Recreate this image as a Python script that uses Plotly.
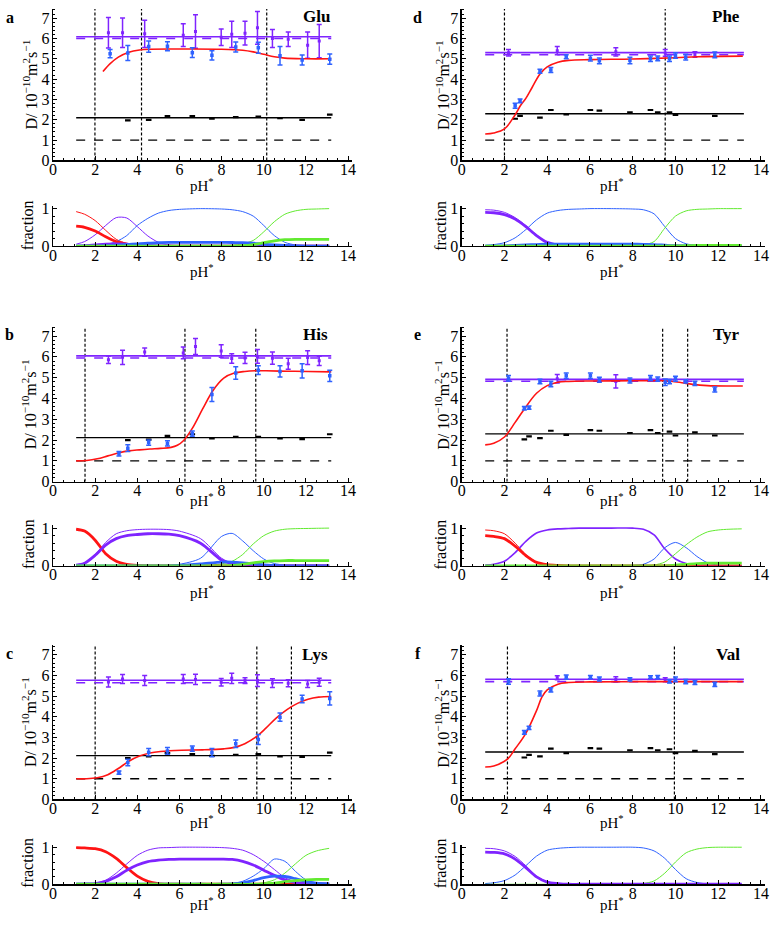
import plotly.graph_objects as go

W, H = 772, 928
FONT = "Liberation Serif, Times New Roman, serif"
PURPLE = "#7f24ff"
BLUE = "#2f62ff"
RED = "#ff1414"
GREEN = "#62ea30"

LINE_PH = [1.1, 13.2]

# ---------------- Glu (a) ----------------
glu_ref = [6.08, 6.0, 2.1, 1.0]          # purple solid, purple dashed, black solid, black dashed
glu_pka = [1.99, 4.2, 10.14]
glu_fit_ph = [2.37, 2.7, 3.1, 3.6, 4.1, 4.6, 6.0, 8.0, 9.0, 9.5, 10.0, 10.5, 11.0, 12.0, 13.2]
glu_fit_d = [4.37, 4.75, 5.08, 5.32, 5.43, 5.47, 5.48, 5.47, 5.42, 5.34, 5.22, 5.1, 5.03, 5.0, 5.0]
glu_an_ph = [2.71, 3.55, 4.54, 5.43, 6.61, 7.54, 8.67, 9.74, 10.77, 11.82, 13.13]
glu_an_d = [5.25, 5.28, 5.6, 5.62, 5.3, 5.17, 5.58, 5.54, 5.15, 4.94, 4.98]
glu_an_err = [0.2, 0.37, 0.28, 0.22, 0.24, 0.23, 0.25, 0.27, 0.45, 0.25, 0.25]
glu_rf_ph = [2.63, 3.3, 4.35, 6.18, 6.76, 7.98, 8.48, 9.11, 9.7, 10.41, 11.16, 12.08, 12.63]
glu_rf_d = [6.28, 6.28, 6.23, 6.16, 6.34, 6.06, 6.2, 6.26, 6.52, 6.0, 5.96, 5.67, 5.87]
glu_rf_err = [0.75, 0.72, 0.67, 0.56, 0.82, 0.41, 0.64, 0.58, 0.8, 0.44, 0.36, 0.65, 0.82]
glu_bk_ph = [3.55, 4.54, 5.43, 6.61, 7.54, 8.67, 9.74, 10.77, 11.82, 13.13]
glu_bk_d = [1.97, 2.0, 2.18, 2.18, 2.05, 2.13, 2.16, 2.08, 2.0, 2.25]

# ---------------- His (b) ----------------
his_ref = [6.05, 5.95, 2.12, 1.0]
his_pka = [1.52, 6.26, 9.62]
his_fit_ph = [1.1, 1.6, 2.1, 2.6, 3.1, 3.6, 4.1, 4.6, 5.1, 5.6, 5.9, 6.2, 6.6, 7.1, 7.6, 8.1, 8.6, 9.1, 9.6, 10.1, 11.1, 12.1, 13.2]
his_fit_d = [1.0, 1.02, 1.1, 1.24, 1.38, 1.48, 1.53, 1.57, 1.6, 1.65, 1.75, 1.98, 2.55, 3.5, 4.4, 4.98, 5.22, 5.3, 5.33, 5.33, 5.31, 5.3, 5.28]
his_an_ph = [3.13, 3.55, 4.54, 5.43, 6.61, 7.54, 8.67, 9.74, 10.77, 11.82, 13.13]
his_an_d = [1.34, 1.61, 1.88, 1.84, 2.31, 4.19, 5.22, 5.36, 5.3, 5.33, 5.09]
his_an_err = [0.11, 0.16, 0.13, 0.13, 0.13, 0.34, 0.3, 0.21, 0.27, 0.34, 0.27]
his_rf_ph = [2.63, 3.3, 4.35, 6.18, 6.76, 7.98, 8.48, 9.11, 9.7, 10.41, 11.16, 12.08, 12.63]
his_rf_d = [5.86, 5.98, 6.23, 6.19, 6.5, 6.28, 5.92, 5.95, 6.02, 5.94, 5.67, 5.97, 5.81]
his_rf_err = [0.18, 0.34, 0.2, 0.28, 0.39, 0.3, 0.23, 0.27, 0.33, 0.29, 0.26, 0.33, 0.22]
his_bk_ph = [3.55, 4.54, 5.43, 6.61, 7.54, 8.67, 9.74, 10.77, 11.82, 13.13]
his_bk_d = [2.0, 2.02, 2.2, 2.28, 2.08, 2.16, 2.16, 2.08, 2.05, 2.28]

# ---------------- Lys (c) ----------------
lys_ref = [5.77, 5.65, 2.12, 1.0]
lys_pka = [2.0, 9.67, 11.31]
lys_fit_ph = [1.1, 1.6, 2.1, 2.6, 3.1, 3.6, 4.1, 4.6, 5.1, 6.1, 7.1, 8.1, 8.6, 9.1, 9.6, 10.1, 10.6, 11.1, 11.6, 12.1, 12.6, 13.2]
lys_fit_d = [1.0, 1.0, 1.05, 1.2, 1.5, 1.85, 2.1, 2.25, 2.32, 2.38, 2.4, 2.45, 2.52, 2.7, 3.0, 3.45, 3.95, 4.35, 4.65, 4.85, 4.95, 4.98]
lys_an_ph = [3.13, 3.55, 4.54, 5.43, 6.61, 7.54, 8.67, 9.74, 10.77, 11.82, 13.13]
lys_an_d = [1.3, 1.79, 2.29, 2.35, 2.46, 2.27, 2.7, 2.9, 3.98, 4.86, 4.89]
lys_an_err = [0.08, 0.16, 0.17, 0.16, 0.13, 0.2, 0.18, 0.24, 0.2, 0.18, 0.32]
lys_rf_ph = [2.63, 3.3, 4.35, 6.18, 6.76, 7.98, 8.48, 9.11, 9.7, 10.41, 11.16, 12.08, 12.63]
lys_rf_d = [5.68, 5.83, 5.76, 5.83, 5.81, 5.67, 5.86, 5.75, 5.75, 5.63, 5.62, 5.59, 5.67]
lys_rf_err = [0.24, 0.22, 0.24, 0.22, 0.25, 0.18, 0.25, 0.14, 0.29, 0.21, 0.17, 0.17, 0.19]
lys_bk_ph = [3.55, 4.54, 5.43, 6.61, 7.54, 8.67, 9.74, 10.77, 11.82, 13.13]
lys_bk_d = [2.0, 2.08, 2.24, 2.19, 2.11, 2.16, 2.19, 2.08, 2.06, 2.27]

# ---------------- Phe (d) ----------------
phe_ref = [5.3, 5.2, 2.3, 1.0]
phe_pka = [2.0, 9.52]
phe_fit_ph = [1.1, 1.5, 2.0, 2.5, 2.75, 3.0, 3.3, 3.66, 4.0, 4.5, 5.0, 6.0, 8.0, 10.0, 11.0, 13.15]
phe_fit_d = [1.3, 1.35, 1.55, 2.25, 2.7, 3.05, 3.6, 4.25, 4.6, 4.83, 4.92, 4.96, 4.99, 5.05, 5.1, 5.13]
phe_an_ph = [2.5, 2.73, 3.66, 4.17, 4.89, 6.02, 6.44, 7.87, 8.83, 9.17, 9.72, 10.0, 10.48, 11.84]
phe_an_d = [2.69, 2.93, 4.39, 4.45, 5.1, 5.03, 4.9, 4.92, 5.0, 5.02, 5.0, 5.16, 5.08, 5.19]
phe_an_err = [0.12, 0.09, 0.1, 0.12, 0.1, 0.14, 0.14, 0.16, 0.14, 0.12, 0.14, 0.14, 0.14, 0.14]
phe_rf_ph = [2.19, 4.47, 7.21, 9.52, 10.91]
phe_rf_d = [5.3, 5.4, 5.34, 5.29, 5.21]
phe_rf_err = [0.16, 0.2, 0.2, 0.16, 0.13]
phe_bk_ph = [2.5, 2.73, 3.66, 4.17, 4.89, 6.02, 6.44, 7.87, 8.83, 9.17, 9.72, 10.0, 11.84]
phe_bk_d = [2.05, 2.19, 2.11, 2.48, 2.27, 2.48, 2.45, 2.37, 2.48, 2.37, 2.37, 2.24, 2.19]

# ---------------- Tyr (e) ----------------
tyr_ref = [4.92, 4.83, 2.3, 1.0]
tyr_pka = [2.12, 9.4, 10.57]
tyr_fit_ph = [1.1, 1.5, 2.0, 2.5, 2.9, 3.5, 4.0, 4.5, 5.0, 6.0, 8.0, 9.4, 9.8, 10.3, 10.8, 11.5, 12.5, 13.15]
tyr_fit_d = [1.77, 1.85, 2.15, 2.85, 3.45, 4.25, 4.62, 4.78, 4.82, 4.84, 4.85, 4.85, 4.83, 4.76, 4.68, 4.62, 4.6, 4.6]
tyr_an_ph = [2.19, 2.93, 3.15, 3.66, 4.17, 4.89, 6.02, 6.44, 7.87, 8.83, 9.17, 9.52, 9.72, 10.0, 10.48, 10.91, 11.84]
tyr_an_d = [4.97, 3.53, 3.56, 4.82, 4.7, 5.09, 5.09, 4.9, 4.87, 4.98, 4.93, 4.78, 4.81, 4.95, 4.82, 4.73, 4.43]
tyr_an_err = [0.13, 0.08, 0.08, 0.11, 0.13, 0.13, 0.13, 0.12, 0.12, 0.12, 0.1, 0.16, 0.1, 0.12, 0.08, 0.1, 0.12]
tyr_rf_ph = [4.47, 7.21]
tyr_rf_d = [4.95, 4.82]
tyr_rf_err = [0.2, 0.32]
tyr_bk_ph = [2.93, 3.15, 3.66, 4.17, 4.89, 6.02, 6.44, 7.87, 8.83, 9.17, 9.72, 10.0, 10.91, 11.84]
tyr_bk_d = [2.03, 2.18, 2.09, 2.45, 2.25, 2.48, 2.45, 2.34, 2.48, 2.34, 2.41, 2.22, 2.37, 2.22]

# ---------------- Val (f) ----------------
val_ref = [5.82, 5.7, 2.3, 1.0]
val_pka = [2.14, 9.95]
val_fit_ph = [1.1, 1.5, 2.14, 2.5, 3.0, 3.5, 3.75, 4.0, 4.5, 5.0, 6.0, 8.0, 13.15]
val_fit_d = [1.57, 1.62, 1.95, 2.45, 3.2, 4.3, 4.95, 5.3, 5.58, 5.66, 5.69, 5.7, 5.7]
val_an_ph = [2.19, 2.93, 3.15, 3.66, 4.17, 4.89, 6.02, 6.44, 7.87, 8.83, 9.17, 9.72, 10.0, 10.48, 10.91, 11.84]
val_an_d = [5.71, 3.25, 3.46, 5.13, 5.3, 5.92, 5.92, 5.83, 5.81, 5.92, 5.92, 5.71, 5.81, 5.7, 5.65, 5.57]
val_an_err = [0.13, 0.09, 0.08, 0.12, 0.1, 0.1, 0.08, 0.1, 0.08, 0.07, 0.08, 0.08, 0.12, 0.1, 0.09, 0.1]
val_rf_ph = [4.47, 7.21, 9.52]
val_rf_d = [5.89, 5.81, 5.79]
val_rf_err = [0.1, 0.13, 0.1]
val_bk_ph = [2.93, 3.15, 3.66, 4.17, 4.89, 6.02, 6.44, 7.87, 8.83, 9.17, 9.72, 10.0, 10.91, 11.84]
val_bk_d = [2.03, 2.16, 2.08, 2.46, 2.24, 2.48, 2.46, 2.38, 2.48, 2.38, 2.43, 2.24, 2.35, 2.19]

# ---------------- species fractions (common pH grid) ----------------
FRAC_PH = [1.1, 1.5, 2, 2.5, 3, 3.5, 4, 4.5, 5, 5.5, 6, 7, 8, 8.5, 9, 9.5, 10, 10.5, 11, 11.5, 12, 12.5, 13.1]

glu_red_thin = [0.92, 0.85, 0.68, 0.42, 0.18, 0.07, 0.02, 0.005, 0, 0, 0, 0, 0, 0, 0, 0, 0, 0, 0, 0, 0, 0, 0]
glu_red_thick = [0.53, 0.5, 0.4, 0.25, 0.12, 0.05, 0.015, 0, 0, 0, 0, 0, 0, 0, 0, 0, 0, 0, 0, 0, 0, 0, 0]
glu_pur_thin = [0.05, 0.12, 0.3, 0.55, 0.76, 0.75, 0.52, 0.27, 0.1, 0.03, 0.01, 0, 0, 0, 0, 0, 0, 0, 0, 0, 0, 0, 0]
glu_pur_thick = [0, 0.01, 0.03, 0.05, 0.06, 0.05, 0.03, 0.015, 0.005, 0, 0, 0, 0, 0, 0, 0, 0, 0, 0, 0, 0, 0, 0]
glu_blu_thin = [0, 0.005, 0.01, 0.04, 0.12, 0.28, 0.55, 0.74, 0.88, 0.95, 0.98, 1.0, 0.99, 0.97, 0.92, 0.8, 0.55, 0.28, 0.1, 0.03, 0.005, 0, 0]
glu_blu_thick = [0, 0, 0, 0.01, 0.02, 0.04, 0.06, 0.08, 0.09, 0.1, 0.1, 0.1, 0.1, 0.095, 0.09, 0.075, 0.05, 0.03, 0.015, 0.005, 0, 0, 0]
glu_grn_thin = [0, 0, 0, 0, 0, 0, 0, 0, 0, 0, 0, 0, 0.005, 0.02, 0.06, 0.15, 0.38, 0.65, 0.85, 0.94, 0.98, 0.99, 1.0]
glu_grn_thick = [0, 0, 0, 0, 0, 0, 0, 0, 0, 0, 0, 0, 0, 0, 0.01, 0.04, 0.09, 0.14, 0.17, 0.18, 0.18, 0.18, 0.18]

his_red_thin = [0.97, 0.92, 0.68, 0.32, 0.12, 0.04, 0.01, 0, 0, 0, 0, 0, 0, 0, 0, 0, 0, 0, 0, 0, 0, 0, 0]
his_red_thick = [0.97, 0.92, 0.68, 0.32, 0.12, 0.04, 0.01, 0, 0, 0, 0, 0, 0, 0, 0, 0, 0, 0, 0, 0, 0, 0, 0]
his_pur_thin = [0.02, 0.08, 0.3, 0.62, 0.85, 0.93, 0.96, 0.97, 0.97, 0.96, 0.92, 0.72, 0.2, 0.07, 0.02, 0.005, 0, 0, 0, 0, 0, 0, 0]
his_pur_thick = [0.02, 0.07, 0.28, 0.55, 0.72, 0.8, 0.83, 0.85, 0.85, 0.84, 0.8, 0.6, 0.15, 0.05, 0.01, 0, 0, 0, 0, 0, 0, 0, 0]
his_blu_thin = [0, 0, 0, 0, 0, 0, 0, 0, 0, 0.01, 0.04, 0.2, 0.78, 0.86, 0.66, 0.4, 0.18, 0.06, 0.02, 0, 0, 0, 0]
his_blu_thick = [0, 0, 0, 0, 0, 0, 0, 0, 0, 0, 0.01, 0.05, 0.1, 0.1, 0.08, 0.05, 0.025, 0.01, 0, 0, 0, 0, 0]
his_grn_thin = [0, 0, 0, 0, 0, 0, 0, 0, 0, 0, 0, 0, 0.05, 0.12, 0.3, 0.58, 0.8, 0.92, 0.97, 0.985, 0.99, 0.995, 1.0]
his_grn_thick = [0, 0, 0, 0, 0, 0, 0, 0, 0, 0, 0, 0, 0, 0.01, 0.04, 0.08, 0.11, 0.13, 0.14, 0.14, 0.14, 0.14, 0.14]

lys_red_thin = [0.99, 0.98, 0.96, 0.88, 0.7, 0.45, 0.22, 0.08, 0.02, 0.005, 0, 0, 0, 0, 0, 0, 0, 0, 0, 0, 0, 0, 0]
lys_red_thick = [0.99, 0.98, 0.96, 0.88, 0.7, 0.45, 0.22, 0.08, 0.02, 0.005, 0, 0, 0, 0, 0, 0, 0, 0, 0, 0, 0, 0, 0]
lys_pur_thin = [0, 0.01, 0.03, 0.11, 0.3, 0.55, 0.78, 0.92, 0.98, 0.99, 1.0, 1.0, 0.99, 0.97, 0.92, 0.8, 0.62, 0.4, 0.18, 0.07, 0.02, 0.005, 0]
lys_pur_thick = [0, 0.005, 0.02, 0.08, 0.2, 0.38, 0.52, 0.61, 0.65, 0.67, 0.68, 0.68, 0.68, 0.67, 0.62, 0.52, 0.38, 0.24, 0.12, 0.05, 0.02, 0.005, 0]
lys_blu_thin = [0, 0, 0, 0, 0, 0, 0, 0, 0, 0, 0, 0, 0.005, 0.02, 0.08, 0.22, 0.42, 0.68, 0.62, 0.35, 0.12, 0.04, 0.01]
lys_blu_thick = [0, 0, 0, 0, 0, 0, 0, 0, 0, 0, 0, 0, 0, 0.01, 0.04, 0.1, 0.18, 0.22, 0.21, 0.15, 0.08, 0.03, 0.01]
lys_grn_thin = [0, 0, 0, 0, 0, 0, 0, 0, 0, 0, 0, 0, 0, 0, 0, 0.01, 0.04, 0.12, 0.3, 0.55, 0.78, 0.9, 0.97]
lys_grn_thick = [0, 0, 0, 0, 0, 0, 0, 0, 0, 0, 0, 0, 0, 0, 0, 0, 0.01, 0.03, 0.07, 0.1, 0.12, 0.13, 0.13]

phe_pur_thin = [0.97, 0.96, 0.9, 0.76, 0.55, 0.3, 0.1, 0.03, 0.005, 0, 0, 0, 0, 0, 0, 0, 0, 0, 0, 0, 0, 0, 0]
phe_pur_thick = [0.9, 0.89, 0.84, 0.72, 0.52, 0.28, 0.1, 0.03, 0, 0, 0, 0, 0, 0, 0, 0, 0, 0, 0, 0, 0, 0, 0]
phe_blu_thin = [0.02, 0.04, 0.09, 0.22, 0.44, 0.7, 0.88, 0.95, 0.98, 0.99, 1.0, 1.0, 0.99, 0.97, 0.86, 0.52, 0.2, 0.06, 0.02, 0.005, 0, 0, 0]
phe_blu_thick = [0, 0, 0.005, 0.015, 0.03, 0.04, 0.05, 0.05, 0.05, 0.05, 0.05, 0.05, 0.05, 0.045, 0.04, 0.025, 0.01, 0.005, 0, 0, 0, 0, 0]
phe_grn_thin = [0, 0, 0, 0, 0, 0, 0, 0, 0, 0, 0, 0, 0.005, 0.03, 0.12, 0.48, 0.8, 0.94, 0.98, 0.99, 1.0, 1.0, 1.0]
phe_grn_thick = [0, 0, 0, 0, 0, 0, 0, 0, 0, 0, 0, 0, 0, 0, 0, 0, 0.005, 0.01, 0.015, 0.02, 0.02, 0.02, 0.02]

tyr_red_thin = [0.95, 0.93, 0.85, 0.6, 0.3, 0.1, 0.03, 0.01, 0, 0, 0, 0, 0, 0, 0, 0, 0, 0, 0, 0, 0, 0, 0]
tyr_red_thick = [0.8, 0.78, 0.72, 0.52, 0.27, 0.09, 0.03, 0.01, 0, 0, 0, 0, 0, 0, 0, 0, 0, 0, 0, 0, 0, 0, 0]
tyr_pur_thin = [0.02, 0.04, 0.12, 0.35, 0.65, 0.87, 0.95, 0.98, 0.99, 1.0, 1.0, 1.0, 1.0, 0.97, 0.82, 0.45, 0.18, 0.06, 0.02, 0.01, 0, 0, 0]
tyr_blu_thin = [0, 0, 0, 0, 0, 0, 0, 0, 0, 0, 0, 0, 0.01, 0.04, 0.18, 0.48, 0.62, 0.48, 0.25, 0.08, 0.02, 0, 0]
tyr_grn_thin = [0, 0, 0, 0, 0, 0, 0, 0, 0, 0, 0, 0, 0, 0, 0.02, 0.1, 0.32, 0.56, 0.76, 0.9, 0.95, 0.97, 0.98]
tyr_grn_thick = [0, 0, 0, 0, 0, 0, 0, 0, 0, 0, 0, 0, 0, 0, 0, 0, 0.02, 0.04, 0.06, 0.07, 0.07, 0.07, 0.07]

val_pur_thin = [0.97, 0.96, 0.9, 0.75, 0.5, 0.22, 0.07, 0.02, 0, 0, 0, 0, 0, 0, 0, 0, 0, 0, 0, 0, 0, 0, 0]
val_pur_thick = [0.87, 0.86, 0.82, 0.68, 0.45, 0.2, 0.06, 0.02, 0, 0, 0, 0, 0, 0, 0, 0, 0, 0, 0, 0, 0, 0, 0]
val_blu_thin = [0.02, 0.04, 0.1, 0.25, 0.5, 0.76, 0.92, 0.97, 0.99, 1.0, 1.0, 1.0, 1.0, 0.98, 0.9, 0.7, 0.4, 0.15, 0.05, 0.01, 0, 0, 0]
val_grn_thin = [0, 0, 0, 0, 0, 0, 0, 0, 0, 0, 0, 0, 0.005, 0.02, 0.09, 0.3, 0.6, 0.85, 0.95, 0.99, 1.0, 1.0, 1.0]

panel_letters = ["a", "b", "c", "d", "e", "f"]
panel_names = ["Glu", "His", "Lys", "Phe", "Tyr", "Val"]

# ---------------- geometry (pixels) ----------------
COLS = {0: (49.5, 21.3), 1: (462.5, 21.6)}   # x=0 position, px per unit
X_MAX = 14.2
ROWS_MAIN = [(3, 157), (326, 483.5), (650, 806.5)]
ROWS_FRAC = [(203.3, 244), (528, 569), (852.4, 892.7)]
D_MAX = 7.45
F_MAX = 1.07

panels = [
    dict(col=0, row=0, ref=glu_ref, pka=glu_pka, fit=(glu_fit_ph, glu_fit_d),
         an=(glu_an_ph, glu_an_d, glu_an_err), rf=(glu_rf_ph, glu_rf_d, glu_rf_err), bk=(glu_bk_ph, glu_bk_d),
         frac=[(glu_red_thin, RED, 1), (glu_pur_thin, PURPLE, 1), (glu_blu_thin, BLUE, 1), (glu_grn_thin, GREEN, 1),
               (glu_red_thick, RED, 2.8), (glu_pur_thick, PURPLE, 2.8), (glu_blu_thick, BLUE, 2.8), (glu_grn_thick, GREEN, 2.8)]),
    dict(col=0, row=1, ref=his_ref, pka=his_pka, fit=(his_fit_ph, his_fit_d),
         an=(his_an_ph, his_an_d, his_an_err), rf=(his_rf_ph, his_rf_d, his_rf_err), bk=(his_bk_ph, his_bk_d),
         frac=[(his_red_thin, RED, 1), (his_pur_thin, PURPLE, 1), (his_blu_thin, BLUE, 1), (his_grn_thin, GREEN, 1),
               (his_red_thick, RED, 2.8), (his_pur_thick, PURPLE, 2.8), (his_blu_thick, BLUE, 2.8), (his_grn_thick, GREEN, 2.8)]),
    dict(col=0, row=2, ref=lys_ref, pka=lys_pka, fit=(lys_fit_ph, lys_fit_d),
         an=(lys_an_ph, lys_an_d, lys_an_err), rf=(lys_rf_ph, lys_rf_d, lys_rf_err), bk=(lys_bk_ph, lys_bk_d),
         frac=[(lys_red_thin, RED, 1), (lys_pur_thin, PURPLE, 1), (lys_blu_thin, BLUE, 1), (lys_grn_thin, GREEN, 1),
               (lys_red_thick, RED, 2.8), (lys_pur_thick, PURPLE, 2.8), (lys_blu_thick, BLUE, 2.8), (lys_grn_thick, GREEN, 2.8)]),
    dict(col=1, row=0, ref=phe_ref, pka=phe_pka, fit=(phe_fit_ph, phe_fit_d),
         an=(phe_an_ph, phe_an_d, phe_an_err), rf=(phe_rf_ph, phe_rf_d, phe_rf_err), bk=(phe_bk_ph, phe_bk_d),
         frac=[(phe_pur_thin, PURPLE, 1), (phe_blu_thin, BLUE, 1), (phe_grn_thin, GREEN, 1),
               (phe_pur_thick, PURPLE, 2.8), (phe_blu_thick, BLUE, 2.8), (phe_grn_thick, GREEN, 2.8)]),
    dict(col=1, row=1, ref=tyr_ref, pka=tyr_pka, fit=(tyr_fit_ph, tyr_fit_d),
         an=(tyr_an_ph, tyr_an_d, tyr_an_err), rf=(tyr_rf_ph, tyr_rf_d, tyr_rf_err), bk=(tyr_bk_ph, tyr_bk_d),
         frac=[(tyr_red_thin, RED, 1), (tyr_pur_thin, PURPLE, 1.6), (tyr_blu_thin, BLUE, 1), (tyr_grn_thin, GREEN, 1),
               (tyr_red_thick, RED, 2.8), (tyr_grn_thick, GREEN, 2.8)]),
    dict(col=1, row=2, ref=val_ref, pka=val_pka, fit=(val_fit_ph, val_fit_d),
         an=(val_an_ph, val_an_d, val_an_err), rf=(val_rf_ph, val_rf_d, val_rf_err), bk=(val_bk_ph, val_bk_d),
         frac=[(val_pur_thin, PURPLE, 1), (val_blu_thin, BLUE, 1), (val_grn_thin, GREEN, 1),
               (val_pur_thick, PURPLE, 2.8)]),
]

fig = go.Figure()
layout = {}


def xd(col):
    x0, s = COLS[col]
    return [x0 / W, min(1.0, (x0 + X_MAX * s) / W)]


def yd(top, bot):
    return [1 - bot / H, 1 - top / H]


def axis_base():
    return dict(showline=True, linecolor="black", linewidth=1.3, ticks="inside", ticklen=4,
                tickwidth=1, tickcolor="black", showgrid=False, zeroline=False,
                tickfont=dict(family=FONT, size=16, color="black"), fixedrange=True)


def ref(kind, k):
    return kind if k == 1 else f"{kind}{k}"


for i, p in enumerate(panels):
    km, kf = 2 * i + 1, 2 * i + 2
    col, row = p["col"], p["row"]
    for k, (top, bot), ymax in [(km, ROWS_MAIN[row], D_MAX), (kf, ROWS_FRAC[row], F_MAX)]:
        xa = axis_base()
        xa.update(domain=xd(col), range=[0, X_MAX], tickmode="linear", tick0=0, dtick=2,
                  anchor=ref("y", k), ticklabelstandoff=-6,
                  minor=dict(ticks="inside", ticklen=2, dtick=0.5, tick0=0, tickcolor="black"))
        ya = axis_base()
        ya.update(domain=yd(top, bot), range=[0, ymax], tickmode="linear", tick0=0, dtick=1,
                  anchor=ref("x", k), ticklabelstandoff=-1,
                  minor=dict(ticks="inside", ticklen=2, dtick=0.2, tick0=0, tickcolor="black"))
        layout["xaxis" if k == 1 else f"xaxis{k}"] = xa
        layout["yaxis" if k == 1 else f"yaxis{k}"] = ya

    xr, yr = ref("x", km), ref("y", km)
    for v in p["pka"]:
        fig.add_trace(go.Scatter(x=[v, v], y=[0, D_MAX], mode="lines", xaxis=xr, yaxis=yr,
                                 line=dict(color="black", width=1.2, dash="3px,2px")))
    styles = [(PURPLE, "solid", 1.6), (PURPLE, "dash", 1.6), ("black", "solid", 1.4), ("black", "dash", 1.4)]
    for val, (c, dsh, w) in zip(p["ref"], styles):
        fig.add_trace(go.Scatter(x=LINE_PH, y=[val, val], mode="lines", xaxis=xr, yaxis=yr,
                                 line=dict(color=c, width=w, dash=dsh)))
    fig.add_trace(go.Scatter(x=p["bk"][0], y=p["bk"][1], mode="markers", xaxis=xr, yaxis=yr,
                             marker=dict(symbol="line-ew", size=4, line=dict(color="black", width=2.2))))
    fig.add_trace(go.Scatter(x=p["rf"][0], y=p["rf"][1], mode="markers", xaxis=xr, yaxis=yr,
                             marker=dict(color=PURPLE, size=3, symbol="square"),
                             error_y=dict(type="data", array=p["rf"][2], color=PURPLE, thickness=1.5, width=2.5)))
    fig.add_trace(go.Scatter(x=p["fit"][0], y=p["fit"][1], mode="lines", xaxis=xr, yaxis=yr,
                             line=dict(color=RED, width=1.6, shape="spline", smoothing=1.0)))
    fig.add_trace(go.Scatter(x=p["an"][0], y=p["an"][1], mode="markers", xaxis=xr, yaxis=yr,
                             marker=dict(color=BLUE, size=3.5, symbol="square"),
                             error_y=dict(type="data", array=p["an"][2], color=BLUE, thickness=1.5, width=2.5)))
    xr2, yr2 = ref("x", kf), ref("y", kf)
    for vals, c, w in p["frac"]:
        fig.add_trace(go.Scatter(x=FRAC_PH, y=vals, mode="lines", xaxis=xr2, yaxis=yr2,
                                 line=dict(color=c, width=w, shape="spline", smoothing=0.8)))

# ---------------- annotations ----------------
ann = []


def px(x, y, text, size=14, bold=False, angle=0, xanchor="center"):
    t = f"<b>{text}</b>" if bold else text
    ann.append(dict(x=x / W, y=1 - y / H, xref="paper", yref="paper", text=t, showarrow=False,
                    textangle=angle, xanchor=xanchor, yanchor="middle",
                    font=dict(family=FONT, size=size, color="black")))


letter_pos = [(6, 12), (6, 334), (6, 658), (418, 12), (418, 334), (418, 658)]
name_right = [(331, 11), (329, 334), (329, 659), (746, 11), (746, 334), (746, 659)]
for (lx, ly), (nx, ny), L, N in zip(letter_pos, name_right, panel_letters, panel_names):
    px(lx, ly, L, size=16, bold=True)
    px(nx, ny, N, size=17, bold=True, xanchor="right")

ph_main_y = [182, 502, 829]
ph_frac_y = [269, 596, 913]
ytitle_main = [80, 405, 728]
ytitle_frac = [223, 547, 871]
for col, cx, tx in [(0, 200, 26), (1, 614, 443)]:
    for r in range(3):
        px(cx, ph_main_y[r], "pH<sup>*</sup>", size=15)
        px(cx, ph_frac_y[r], "pH<sup>*</sup>", size=15)
        px(tx, ytitle_main[r], "D/ 10<sup>−10</sup>m<sup>2</sup>s<sup>−1</sup>", size=16, angle=-90)
        px(tx - 2, ytitle_frac[r], "fraction", size=16, angle=-90)

layout.update(width=W, height=H, margin=dict(l=0, r=0, t=0, b=0), showlegend=False,
              paper_bgcolor="white", plot_bgcolor="white", annotations=ann, hovermode=False)
fig.update_layout(**layout)
fig.write_html("out.html", config={"displayModeBar": False, "staticPlot": True},
               post_script="document.body.style.margin='0';document.body.style.padding='0';")
